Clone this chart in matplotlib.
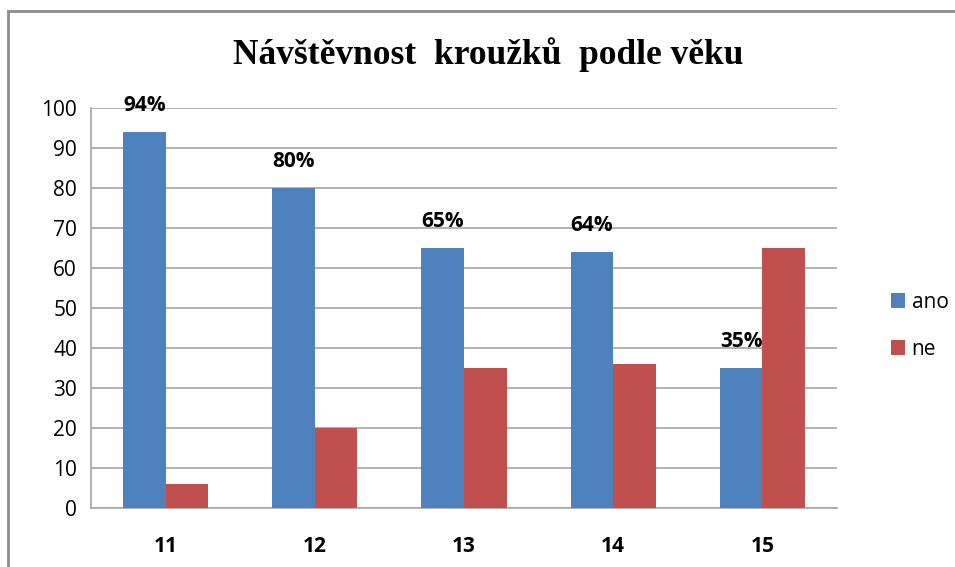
#bar chart - navstevnost krouzku podle veku
import numpy as np
import matplotlib.pyplot as plt
from matplotlib.lines import Line2D

vek=['11','12','13','14','15']
ano=[94,80,65,64,35]
ne=[6,20,35,36,65]
popisky=['94%','80%','65%','64%','35%']

modra='#4f81bd'
cervena='#c0504d'
seda='#a6a6a6'

plt.rcParams['font.family']=['Open Sans','DejaVu Sans']

fig=plt.figure(figsize=(9.55,5.67),dpi=100)
# ramecek kolem grafu - jen horni a leva cara
yt=1-11/567
xl=8/955
fig.lines.append(Line2D([xl,1.0],[yt,yt],transform=fig.transFigure,color='#8c8c8c',linewidth=2))
fig.lines.append(Line2D([xl,xl],[0,yt],transform=fig.transFigure,color='#8c8c8c',linewidth=2))

ax=fig.add_axes([91/955,1-508/567,(837-91)/955,(508-108)/567])
x=np.arange(len(vek))
w=0.285
ax.bar(x-w/2,ano,w,color=modra,label='ano',zorder=3)
ax.bar(x+w/2,ne,w,color=cervena,label='ne',zorder=3)

for i in range(len(vek)):
    ax.annotate(popisky[i],(x[i]-w/2,ano[i]),xytext=(0,19),textcoords='offset points',
                ha='center',va='center',fontsize=15,fontweight='bold',zorder=4)

ax.set_xlim(-0.5,len(vek)-0.5)
ax.set_ylim(0,100)
ax.set_yticks(range(0,101,10))
ax.set_xticks(x)
ax.set_xticklabels(vek,fontweight='bold')
ax.tick_params(axis='x',length=0,labelsize=15,pad=20)
ax.tick_params(axis='y',length=0,labelsize=15,pad=10)
ax.grid(axis='y',color=seda,linewidth=1.2,zorder=0)
for s in ['top','right']:
    ax.spines[s].set_visible(False)
ax.spines['left'].set_color(seda)
ax.spines['bottom'].set_color(seda)
ax.spines['left'].set_linewidth(1.2)
ax.spines['bottom'].set_linewidth(1.2)

fig.text(488/955,1-55/567,'Návštěvnost  kroužků  podle věku',ha='center',va='center',
         fontsize=25.5,fontweight='bold',family='Liberation Serif')

fig.legend(loc='center left',bbox_to_anchor=(872/955,1-326/567),frameon=False,
           fontsize=15,handlelength=0.7,handleheight=0.7,handletextpad=0.3,labelspacing=1.25)

fig.savefig('out.png',dpi=100)
